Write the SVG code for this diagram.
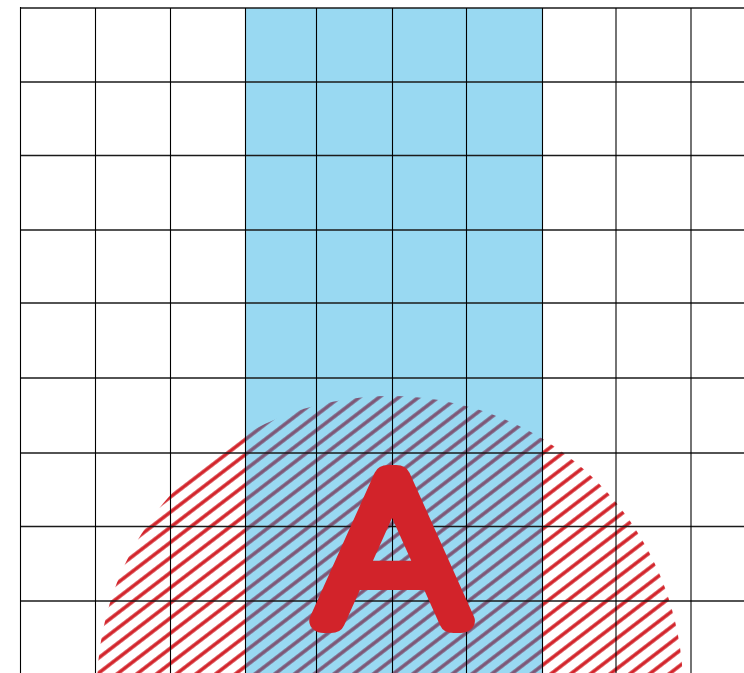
<svg xmlns="http://www.w3.org/2000/svg" width="744" height="673" viewBox="0 0 744 673">
  <style>
    .v { stroke: #000; stroke-width: 1.1; }
    .h { stroke: #1a1a1a; stroke-width: 1.4; }
    .letter { font-family: Roboto, "Liberation Sans", sans-serif; font-weight: 100; font-size: 202px; fill: #d2232a; stroke: #d2232a; stroke-width: 24; stroke-linejoin: round; stroke-linecap: round; }
  </style>
  <defs>
    <pattern id="hatchRed" patternUnits="userSpaceOnUse" width="20" height="12" patternTransform="rotate(-37.5)">
      <rect x="0" y="4.25" width="20" height="3.5" fill="#d2232a"/>
    </pattern>
    <pattern id="hatchPurple" patternUnits="userSpaceOnUse" width="20" height="12" patternTransform="rotate(-37.5)">
      <rect x="0" y="4.25" width="20" height="3.5" fill="#7d5676"/>
    </pattern>
    <clipPath id="bandClip">
      <rect x="246" y="8" width="296" height="665"/>
    </clipPath>
  </defs>
  <rect width="744" height="673" fill="#fff"/>
  <g id="hatched-circle">
    <circle cx="390" cy="689" r="293" fill="url(#hatchRed)"/>
  </g>
  <g id="blue-band">
    <rect x="246" y="8" width="296" height="665" fill="#99d9f2"/>
    <circle cx="390" cy="689" r="293" fill="url(#hatchPurple)" clip-path="url(#bandClip)"/>
  </g>
  <g id="grid">
    <line class="h" x1="20" y1="8" x2="744" y2="8"/>
    <line class="h" x1="20" y1="82" x2="744" y2="82"/>
    <line class="h" x1="20" y1="155.5" x2="744" y2="155.5"/>
    <line class="h" x1="20" y1="230" x2="744" y2="230"/>
    <line class="h" x1="20" y1="303" x2="744" y2="303"/>
    <line class="h" x1="20" y1="378" x2="744" y2="378"/>
    <line class="h" x1="20" y1="453" x2="744" y2="453"/>
    <line class="h" x1="20" y1="526.5" x2="744" y2="526.5"/>
    <line class="h" x1="20" y1="601" x2="744" y2="601"/>
    <line class="v" x1="20.5" y1="7" x2="20.5" y2="673"/>
    <line class="v" x1="95.5" y1="8" x2="95.5" y2="673"/>
    <line class="v" x1="170.5" y1="8" x2="170.5" y2="673"/>
    <line class="v" x1="245.5" y1="8" x2="245.5" y2="673"/>
    <line class="v" x1="316.5" y1="8" x2="316.5" y2="673"/>
    <line class="v" x1="392.5" y1="8" x2="392.5" y2="673"/>
    <line class="v" x1="466.5" y1="8" x2="466.5" y2="673"/>
    <line class="v" x1="542.5" y1="8" x2="542.5" y2="673"/>
    <line class="v" x1="616" y1="8" x2="616" y2="673"/>
    <line class="v" x1="691" y1="8" x2="691" y2="673"/>
  </g>
  <g id="label-A">
    <text class="letter" x="0" y="621" text-anchor="middle" transform="translate(392 0) scale(1.2 1)">A</text>
  </g>
</svg>
